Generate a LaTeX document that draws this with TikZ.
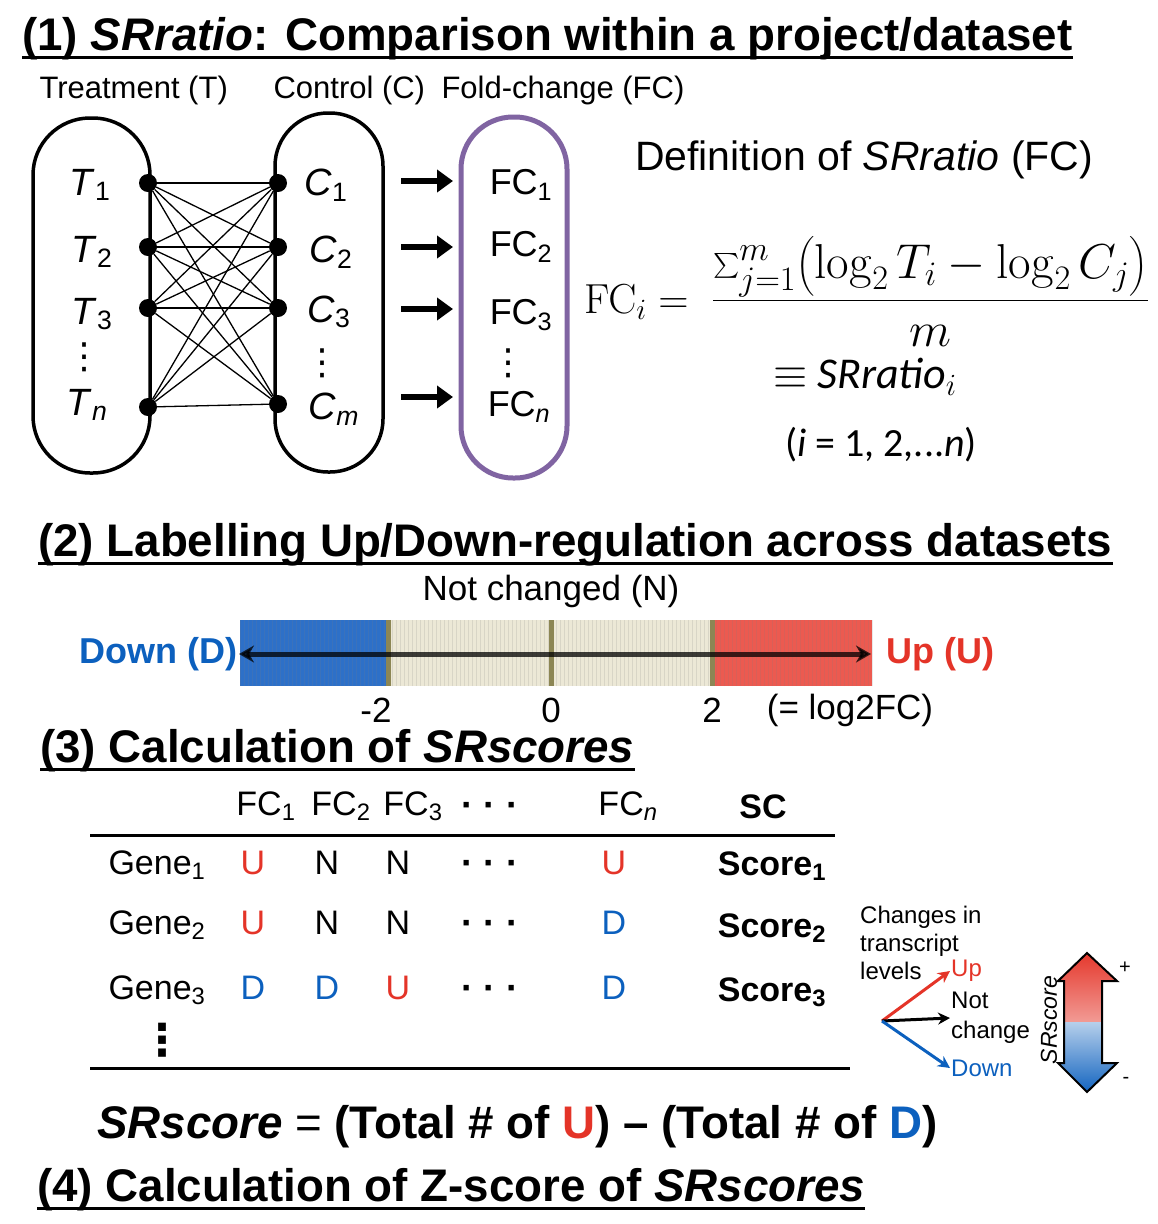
\RequirePackage{fix-cm}
\documentclass[tikz,border=0pt]{standalone}
\usepackage{amsmath}
\usepackage[no-math]{fontspec}
\setmainfont{Liberation Sans}
\newfontfamily\calib{Carlito}
\newfontfamily\djv{DejaVu Sans}
\usepackage{tikz}
\usetikzlibrary{arrows.meta}
\usetikzlibrary{calc}
\newcommand{\sz}[1]{\fontsize{#1}{#1}\selectfont}
\definecolor{fcpurple}{RGB}{128,100,162}
\definecolor{upred}{RGB}{228,52,40}
\definecolor{downblue}{RGB}{12,96,190}
\definecolor{barblue}{RGB}{45,112,200}
\definecolor{bartan}{RGB}{236,232,214}
\definecolor{barred}{RGB}{236,90,80}
\definecolor{olivebar}{RGB}{140,134,84}

\begin{document}
\begin{tikzpicture}[x=1pt, y=-1pt, >=stealth,
  hd/.style={anchor=base west, inner sep=0pt, font=\sz{45.7}\bfseries},
  uline/.style={line width=3pt},
  capsule/.style={draw, line width=3.5pt, inner sep=0pt},
  dot/.style={circle, fill=black, inner sep=0pt, minimum size=18pt},
  wire/.style={line width=1.3pt},
  lab/.style={font=\sz{38}},
  vdot/.style={inner sep=0pt, font=\djv\sz{36}},
  fcarrow/.style={line width=6pt, -{Triangle[length=16pt,width=22pt]}},
  cell/.style={font=\sz{34}},
  ell/.style={font=\sz{37}\bfseries},
  legarr/.style={line width=3pt, -{Stealth[length=12pt,width=12pt]}}]
\useasboundingbox (0,0) rectangle (1158,1224);

\node[hd] (h1) at (22,50) {(1) \textit{SRratio}: Comparison within a project/dataset};
\draw[uline] ([yshift=-7pt]h1.base west) -- ([yshift=-7pt]h1.base east);
\node[anchor=west, font=\sz{31}] (tT) at (36,90) {Treatment (T)};
\node[anchor=west, font=\sz{31}] (tC) at (270,90) {Control (C)};
\node[anchor=west, font=\sz{31}] (tF) at (438,90) {Fold-change (FC)};

\node[capsule, minimum width=117pt, minimum height=355pt, rounded corners=57pt] (tbox) at (91.5,295.5) {};
\node[capsule, minimum width=108pt, minimum height=359pt, rounded corners=53pt] (cbox) at (329,292.5) {};
\node[capsule, draw=fcpurple, line width=5pt, minimum width=106pt, minimum height=361pt, rounded corners=52pt] (fcbox) at (514,297.5) {};

\node[dot] (t1) at (148,183) {};
\node[dot] (t2) at (148,247) {};
\node[dot] (t3) at (148,308) {};
\node[dot] (t4) at (148,407) {};
\node[dot] (c1) at (278,183) {};
\node[dot] (c2) at (278,247) {};
\node[dot] (c3) at (278,308) {};
\node[dot] (c4) at (278,404) {};
\draw[wire] (t1) -- (c1);
\draw[wire] (t1) -- (c2);
\draw[wire] (t1) -- (c3);
\draw[wire] (t1) -- (c4);
\draw[wire] (t2) -- (c1);
\draw[wire] (t2) -- (c2);
\draw[wire] (t2) -- (c3);
\draw[wire] (t2) -- (c4);
\draw[wire] (t3) -- (c1);
\draw[wire] (t3) -- (c2);
\draw[wire] (t3) -- (c3);
\draw[wire] (t3) -- (c4);
\draw[wire] (t4) -- (c1);
\draw[wire] (t4) -- (c2);
\draw[wire] (t4) -- (c3);
\draw[wire] (t4) -- (c4);

\node[lab] (lt1) at (90,185) {\textit{T}\textsubscript{1}};
\node[lab] (lt2) at (92,252) {\textit{T}\textsubscript{2}};
\node[lab] (lt3) at (92,314) {\textit{T}\textsubscript{3}};
\node[vdot] (ltd) at (84,357) {⋮};
\node[lab] (lt4) at (87,405) {\textit{T}\textsubscript{\textit{n}}};
\node[lab] (lc1) at (326,185) {\textit{C}\textsubscript{1}};
\node[lab] (lc2) at (331,252) {\textit{C}\textsubscript{2}};
\node[lab] (lc3) at (329,312) {\textit{C}\textsubscript{3}};
\node[vdot] (lcd) at (322,363) {⋮};
\node[lab] (lc4) at (334,409) {\textit{C}\textsubscript{\textit{m}}};
\node[lab, font=\sz{36}] (f1) at (521,185) {FC\textsubscript{1}};
\node[lab, font=\sz{36}] (f2) at (521,247) {FC\textsubscript{2}};
\node[lab, font=\sz{36}] (f3) at (521,315) {FC\textsubscript{3}};
\node[vdot] (fd) at (508,363) {⋮};
\node[lab, font=\sz{36}] (f4) at (519,407) {FC\textsubscript{\textit{n}}};

\coordinate (a1) at (401,181);
\coordinate (b1) at (453,181);
\coordinate (a2) at (401,247);
\coordinate (b2) at (453,247);
\coordinate (a3) at (401,309);
\coordinate (b3) at (453,309);
\coordinate (a4) at (401,397);
\coordinate (b4) at (453,397);
\draw[fcarrow] (a1) -- (b1);
\draw[fcarrow] (a2) -- (b2);
\draw[fcarrow] (a3) -- (b3);
\draw[fcarrow] (a4) -- (b4);

\node[font=\sz{41}] (defn) at (864,160) {Definition of \textit{SRratio} (FC)};
\node[anchor=base west, inner sep=0pt] (fci) at (584,313)
  {{\sz{42}$\mathrm{FC}_i={}\;$}{\sz{49}$\dfrac{\textstyle\sum_{j=1}^{m}\bigl(\log_2 T_i-\log_2 C_j\bigr)}{m}$}};
\node[font=\calib\sz{44}] (eqv) at (865,377) {$\equiv$ \textit{SRratio}$_i$};
\node[font=\calib\sz{40}] (rng) at (881,445) {(\textit{i} = 1, 2,...\textit{n})};

\node[hd] (h2) at (38,556) {(2) Labelling Up/Down-regulation across datasets};
\draw[uline] ([yshift=-7pt]h2.base west) -- ([yshift=-7pt]h2.base east);
\node[font=\sz{35}] (nc) at (551,591) {Not changed (N)};
\fill[barblue] (240,620) rectangle (388,686);
\fill[bartan] (388,620) rectangle (712,686);
\fill[barred] (712,620) rectangle (872,686);
\draw[black!50, opacity=.18, line width=.5pt, step=4] (240,620) grid (872,686);
\draw[olivebar, line width=5pt] (388,620) -- (388,686);
\draw[olivebar, line width=5pt] (551,620) -- (551,686);
\draw[olivebar, line width=5pt] (712,620) -- (712,686);
\node[anchor=east, inner sep=1pt, font=\sz{36}\bfseries, text=downblue] (dn) at (239,654) {Down (D)};
\node[anchor=west, inner sep=1pt, font=\sz{36}\bfseries, text=upred] (up) at (885,654) {Up (U)};
\draw[{Stealth[length=15pt,width=17pt]}-{Stealth[length=15pt,width=17pt]}, line width=5pt, opacity=.75, shorten >=14pt] (dn.east) -- (up.west);
\node[font=\sz{35}] (m2) at (376,710) {-2};
\node[font=\sz{35}] (z0) at (551,710) {0};
\node[font=\sz{35}] (p2) at (712,710) {2};
\node[font=\sz{35}] (lfc) at (850,710) {(= log2FC)};

\node[hd] (h3) at (40,762) {(3) Calculation of \textit{SRscores}};
\draw[uline] ([yshift=-7pt]h3.base west) -- ([yshift=-7pt]h3.base east);
\node[cell] (hf1) at (266,806) {FC\textsubscript{1}};
\node[cell] (hf2) at (341,806) {FC\textsubscript{2}};
\node[cell] (hf3) at (413,806) {FC\textsubscript{3}};
\node[ell] (hfd) at (490,810) {· · ·};
\node[cell] (hfn) at (628,806) {FC\textsubscript{\textit{n}}};
\node[cell, font=\sz{34}\bfseries] (hsc) at (763,807) {SC};
\draw[line width=3pt] (90,835) -- (835,835);
\node[cell, anchor=west] (g1) at (105,865) {Gene\textsubscript{1}};
\node[cell, text=upred] (g1a) at (253,863) {U};
\node[cell] (g1b) at (327,863) {N};
\node[cell] (g1c) at (398,863) {N};
\node[ell] (g1d) at (490,868) {· · ·};
\node[cell, text=upred] (g1n) at (614,863) {U};
\node[cell, font=\sz{34}\bfseries] (s1) at (772,866) {Score\textsubscript{1}};
\node[cell, anchor=west] (g2) at (105,925) {Gene\textsubscript{2}};
\node[cell, text=upred] (g2a) at (253,923) {U};
\node[cell] (g2b) at (327,923) {N};
\node[cell] (g2c) at (398,923) {N};
\node[ell] (g2d) at (490,928) {· · ·};
\node[cell, text=downblue] (g2n) at (614,923) {D};
\node[cell, font=\sz{34}\bfseries] (s2) at (772,928) {Score\textsubscript{2}};
\node[cell, anchor=west] (g3) at (105,990) {Gene\textsubscript{3}};
\node[cell, text=downblue] (g3a) at (253,988) {D};
\node[cell, text=downblue] (g3b) at (327,988) {D};
\node[cell, text=upred] (g3c) at (398,988) {U};
\node[ell] (g3d) at (490,993) {· · ·};
\node[cell, text=downblue] (g3n) at (614,988) {D};
\node[cell, font=\sz{34}\bfseries] (s3) at (772,992) {Score\textsubscript{3}};
\node[vdot, font=\djv\sz{44}\bfseries] (gd) at (162,1040) {⋮};
\draw[line width=3pt] (90,1068) -- (850,1068);

\node[anchor=north west, align=left, inner sep=0pt, font=\fontsize{24}{28}\selectfont] (chg) at (860,906) {Changes in\\transcript\\levels};
\coordinate (o) at (882,1021);
\node[anchor=west, inner sep=1pt, font=\sz{24}, text=upred] (lup) at (950,971) {Up};
\node[anchor=west, inner sep=1pt, align=left, font=\fontsize{24}{30}\selectfont] (lnc) at (950,1018) {Not\\change};
\node[anchor=west, inner sep=1pt, font=\sz{24}, text=downblue] (ldn) at (950,1068) {Down};
\draw[legarr, upred] (o) -- (lup.west);
\draw[legarr] (o) -- (lnc.west);
\draw[legarr, downblue] (o) -- (ldn.west);

\draw[line width=2pt, line join=miter, path picture={
  \shade[top color=upred, bottom color=white] (1050,950) rectangle (1125,1022);
  \shade[top color=downblue!30, bottom color=downblue] (1050,1022) rectangle (1125,1095);}]
  (1087,953) -- (1117,981) -- (1102,981) -- (1102,1063) -- (1117,1063) -- (1087,1092)
  -- (1058,1063) -- (1064,1063) -- (1064,981) -- (1058,981) -- cycle;
\node[rotate=90, font=\sz{23}\itshape] (srl) at (1049,1020) {SRscore};
\node[font=\sz{20}] (pl) at (1125,968) {+};
\node[font=\sz{20}] (mi) at (1126,1080) {-};

\node[anchor=base west, inner sep=0pt, font=\sz{45.7}] (srs) at (97,1138)
  {\textbf{\textit{SRscore}} = \textbf{(Total \# of \textcolor{upred}{U}) – (Total \# of \textcolor{downblue}{D})}};

\node[hd] (h4) at (37,1201) {(4) Calculation of Z-score of \textit{SRscores}};
\draw[uline] ([yshift=-7pt]h4.base west) -- ([yshift=-7pt]h4.base east);
\end{tikzpicture}
\end{document}
